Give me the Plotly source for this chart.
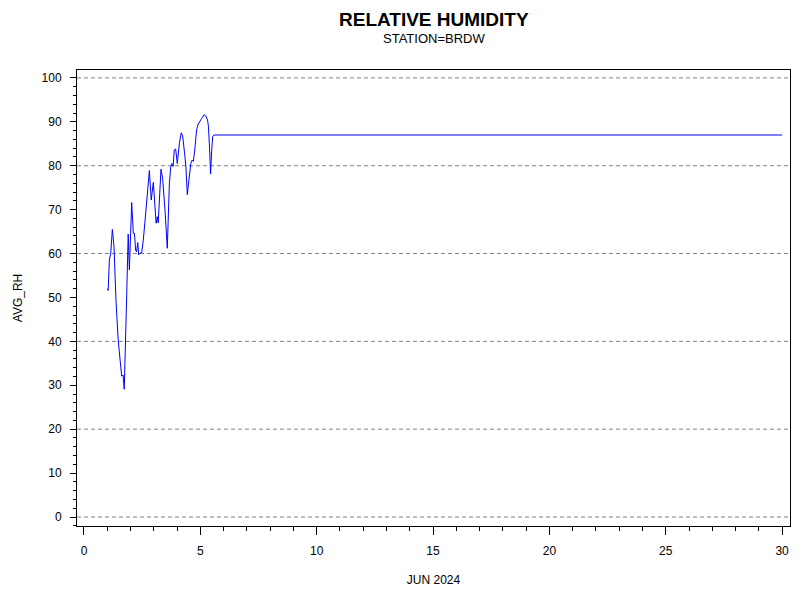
import plotly.graph_objects as go

# Day of June 2024 (fractional) and average relative humidity
day = [1.00, 1.04, 1.09, 1.15, 1.22, 1.29, 1.375, 1.47, 1.58, 1.62, 1.68, 1.73,
       1.83, 1.90, 1.95, 1.99, 2.05, 2.12, 2.17, 2.22, 2.26, 2.31, 2.35, 2.41,
       2.48, 2.55, 2.64, 2.69, 2.81, 2.89, 2.98, 3.06, 3.10, 3.15, 3.19, 3.31,
       3.38, 3.49, 3.53, 3.58, 3.67, 3.73, 3.78, 3.83, 3.88, 3.94, 4.01, 4.10,
       4.18, 4.24, 4.33, 4.38, 4.44, 4.52, 4.59, 4.65, 4.70, 4.76, 4.84, 4.91,
       4.98, 5.06, 5.16, 5.24, 5.31, 5.35, 5.40, 5.44, 5.49, 5.53, 5.59, 30.0]
avg_rh = [52.0, 51.6, 58.5, 60.1, 65.5, 61.6, 49.4, 40.3, 34.2, 32.1, 32.3, 29.1,
          49.4, 64.4, 56.3, 61.6, 71.6, 64.6, 64.6, 60.8, 60.4, 62.5, 59.7, 60.1,
          60.2, 63.1, 69.9, 71.5, 78.9, 72.2, 76.2, 68.4, 66.9, 68.4, 67.0, 79.2,
          77.1, 69.2, 65.0, 61.2, 76.0, 79.8, 80.5, 79.8, 83.6, 83.8, 80.5, 85.1,
          87.5, 86.8, 82.5, 79.8, 73.4, 77.9, 80.5, 81.3, 81.0, 83.6, 88.2, 89.5,
          90.0, 90.8, 91.6, 91.3, 90.4, 88.9, 83.6, 78.1, 83.6, 86.6, 87.0, 87.0]

grid_values = [0, 20, 40, 60, 80, 100]

font = "Liberation Sans, Arial, sans-serif"

# page body adds an 8px offset, so margins are shifted to compensate
plot_h = 600 - 62 - 82


def paper_y(screen_y):
    return (526 - screen_y) / plot_h


fig = go.Figure()
fig.add_trace(go.Scatter(x=day, y=avg_rh, mode="lines",
                         line=dict(color="#0000FF", width=1),
                         showlegend=False))

for g in grid_values:
    fig.add_hline(y=g, line_dash="4px,3px", line_color="#808080", line_width=1,
                  layer="below")

fig.add_annotation(text="<b>RELATIVE HUMIDITY</b>", x=0.5, y=paper_y(8),
                   xref="paper", yref="paper", yanchor="top", borderpad=0,
                   showarrow=False, font=dict(size=19))
fig.add_annotation(text="STATION=BRDW", x=0.5, y=paper_y(38),
                   xref="paper", yref="paper", yanchor="middle", borderpad=0,
                   showarrow=False, font=dict(size=13))

fig.update_layout(
    width=800, height=600,
    margin=dict(l=69, r=18, t=62, b=82),
    paper_bgcolor="white", plot_bgcolor="white",
    font=dict(family=font, size=12, color="black"),
)

fig.update_xaxes(
    range=[-0.3, 30.34], tickmode="linear", tick0=0, dtick=5,
    ticks="outside", ticklen=8, tickcolor="black", ticklabelstandoff=6,
    minor=dict(dtick=1, ticks="outside", ticklen=4, tickcolor="black"),
    showline=True, linecolor="black", linewidth=1, mirror=True,
    showgrid=False, zeroline=False, automargin=False,
    title=dict(text="JUN 2024", standoff=18, font=dict(size=12)),
)
fig.update_yaxes(
    range=[-2.05, 101.8], tickmode="linear", tick0=0, dtick=10,
    ticks="outside", ticklen=6, tickcolor="black", ticklabelstandoff=6,
    minor=dict(dtick=2, ticks="outside", ticklen=3, tickcolor="black"),
    showline=True, linecolor="black", linewidth=1, mirror=True,
    showgrid=False, zeroline=False, automargin=False,
    title=dict(text="AVG_RH", standoff=16, font=dict(size=12)),
)

fig.write_html("out.html")
